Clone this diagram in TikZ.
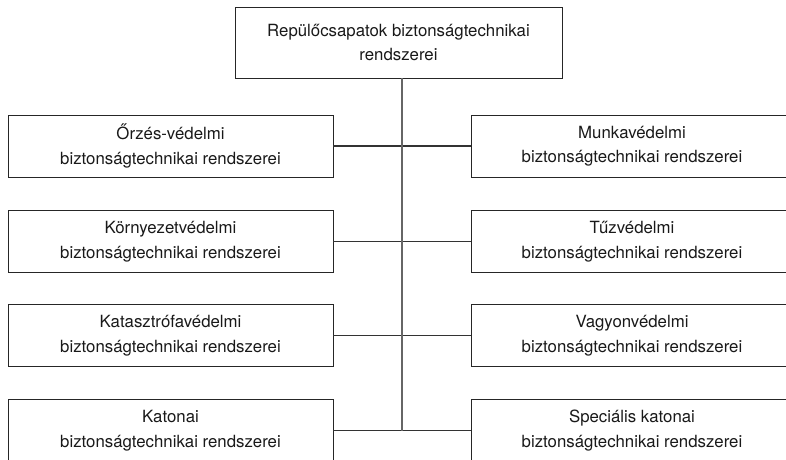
\documentclass[tikz,border=0pt]{standalone}
\usepackage{fontspec}
\setmainfont{TeX Gyre Heros}
\begin{document}
\begin{tikzpicture}[x=1pt,y=-1pt,
  box/.style={draw=black!85,line width=0.9pt,rectangle,inner sep=0pt,align=center,
    font=\fontsize{16.8}{24.5}\selectfont,text=black!90},
  sidebox/.style={box,minimum width=325pt,minimum height=62pt},
  rbox/.style={box,minimum width=322pt,minimum height=62pt},
  conn/.style={draw=black!80,line width=1.1pt},
  trunk/.style={draw=black!60,line width=1.6pt}]
\useasboundingbox (0,0) rectangle (786,459);
\clip (0,0) rectangle (786,459);
\node[box,minimum width=327pt,minimum height=71pt] (top) at (398.5,42.5)
  {Repülőcsapatok biztonságtechnikai\\rendszerei};
\node[sidebox] (l1) at (170.5,146) {Őrzés-védelmi\\biztonságtechnikai rendszerei};
\node[sidebox] (l2) at (170.5,241.5) {Környezetvédelmi\\biztonságtechnikai rendszerei};
\node[sidebox] (l3) at (170.5,335.5) {Katasztrófavédelmi\\biztonságtechnikai rendszerei};
\node[sidebox] (l4) at (170.5,430.5) {Katonai\\biztonságtechnikai rendszerei};
\node[rbox] (r1) at (632,146) {Munkavédelmi\\biztonságtechnikai rendszerei};
\node[rbox] (r2) at (632,241.5) {Tűzvédelmi\\biztonságtechnikai rendszerei};
\node[rbox] (r3) at (632,335.5) {Vagyonvédelmi\\biztonságtechnikai rendszerei};
\node[rbox] (r4) at (632,430.5) {Speciális katonai\\biztonságtechnikai rendszerei};
\draw[conn] (l1.east) -- (r1.west);
\draw[conn] (l2.east) -- (r2.west);
\draw[conn] (l3.east) -- (r3.west);
\draw[conn] (l4.east) -- (r4.west);
\coordinate (tend) at ([xshift=3.5pt]top.south |- l4.east);
\draw[trunk] ([xshift=3.5pt]top.south) -- (tend);
\end{tikzpicture}
\end{document}
